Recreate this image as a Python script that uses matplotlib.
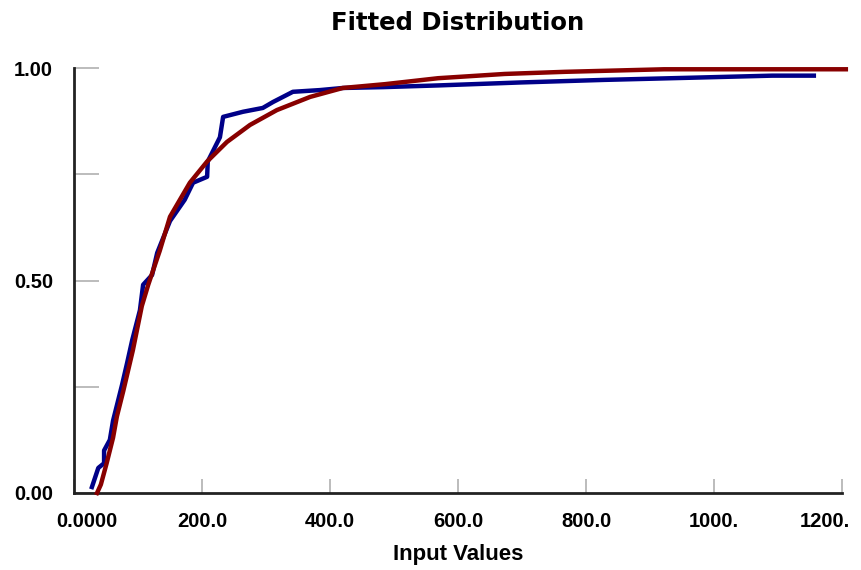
import matplotlib
matplotlib.use("Agg")
import matplotlib.pyplot as plt
from matplotlib.ticker import FixedLocator
from matplotlib.transforms import ScaledTranslation

plt.rcParams['font.family'] = ['Liberation Sans', 'DejaVu Sans']

# Empirical (input) distribution - blue
emp_x = [28, 38, 47, 47, 56, 61, 75, 83, 91, 103, 108, 122, 130, 150, 173, 186,
         208, 209, 228, 233, 264, 295, 311, 342, 384, 420, 483, 569, 698, 828,
         961, 1091, 1156]
emp_y = [0.014, 0.059, 0.07, 0.10, 0.125, 0.17, 0.254, 0.306, 0.36, 0.43, 0.49,
         0.513, 0.565, 0.64, 0.69, 0.73, 0.744, 0.78, 0.837, 0.885, 0.897, 0.906,
         0.92, 0.944, 0.948, 0.953, 0.955, 0.959, 0.966, 0.972, 0.977, 0.982, 0.982]

# Fitted distribution - dark red
fit_x = [36, 42, 51, 61, 67, 77, 92, 106, 116, 134, 150, 181, 208, 239, 275, 317,
         369, 420, 486, 569, 673, 767, 922, 1206]
fit_y = [0.0, 0.02, 0.07, 0.13, 0.18, 0.24, 0.336, 0.44, 0.49, 0.57, 0.65, 0.73,
         0.78, 0.826, 0.866, 0.901, 0.932, 0.953, 0.962, 0.976, 0.986, 0.991,
         0.997, 0.997]

xticks = [0, 200, 400, 600, 800, 1000, 1200]
xticklabels = ["0.0000", "200.0", "400.0", "600.0", "800.0", "1000.", "1200."]
yticks = [0.0, 0.5, 1.0]
yticklabels = ["0.00", "0.50", "1.00"]
yminor = [0.25, 0.75]

fig = plt.figure(figsize=(8.61, 5.70), dpi=100)
ax = fig.add_axes([74/861, 1-493/570, (842-74)/861, (493-68)/570])

ax.plot(emp_x, emp_y, color='#000088', lw=3.2, clip_on=False, zorder=3)
ax.plot(fit_x, fit_y, color='#880000', lw=3.2, clip_on=False, zorder=4)

ax.set_xlim(0, 1200)
ax.set_ylim(0, 1.0)
for s in ['top', 'right']:
    ax.spines[s].set_visible(False)
for s in ['left', 'bottom']:
    ax.spines[s].set_linewidth(2)
    ax.spines[s].set_color('#222222')

ax.set_xticks(xticks)
ax.set_xticklabels(xticklabels, fontsize=14.5, fontweight='bold')
ax.set_yticks(yticks)
ax.set_yticklabels(yticklabels, fontsize=14.5, fontweight='bold')
ax.yaxis.set_minor_locator(FixedLocator(yminor))
ax.tick_params(axis='x', direction='in', length=10, width=1.2, color='#b0b0b0', pad=14)
ax.tick_params(axis='y', which='both', direction='in', length=18, width=1.2, color='#b0b0b0', pad=15)

# keep the end labels inside the figure, as in the reference
labels = ax.get_xticklabels()
labels[0].set_transform(labels[0].get_transform() + ScaledTranslation(13/100, 0, fig.dpi_scale_trans))
labels[-1].set_transform(labels[-1].get_transform() + ScaledTranslation(-17/100, 0, fig.dpi_scale_trans))

ax.set_title("Fitted Distribution", fontsize=17.5, fontweight='bold',
             family=['DejaVu Sans'], pad=27)
ax.set_xlabel("Input Values", fontsize=16, fontweight='bold', labelpad=9)

fig.savefig("out.png", dpi=100)
